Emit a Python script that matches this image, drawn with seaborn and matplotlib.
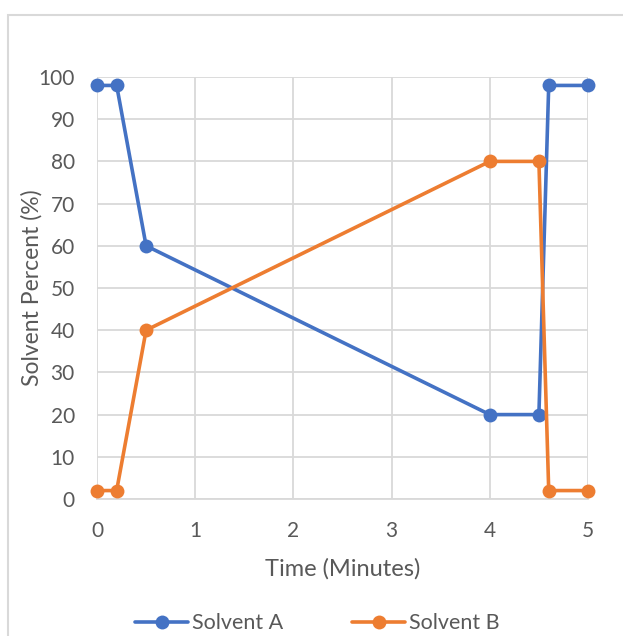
#!/usr/bin/env python3
import matplotlib
matplotlib.use("Agg")
import matplotlib.pyplot as plt
from matplotlib.patches import Rectangle
import pandas as pd
import seaborn as sns

# gradient program
time_min = [0, 0.2, 0.5, 4, 4.5, 4.6, 5]
solvent_a = [98, 98, 60, 20, 20, 98, 98]
solvent_b = [2, 2, 40, 80, 80, 2, 2]
series_names = ["Solvent A", "Solvent B"]
x_ticks = [0, 1, 2, 3, 4, 5]
y_ticks = [0, 10, 20, 30, 40, 50, 60, 70, 80, 90, 100]

BLUE = "#4472C4"
ORANGE = "#ED7D31"
TEXT = "#595959"
GRID = "#D9D9D9"

sns.set_theme(style="white")
plt.rcParams["font.family"] = ["Lato", "DejaVu Sans"]

df = pd.concat(
    [
        pd.DataFrame({"time": time_min, "pct": solvent_a, "series": series_names[0]}),
        pd.DataFrame({"time": time_min, "pct": solvent_b, "series": series_names[1]}),
    ],
    ignore_index=True,
)

fig = plt.figure(figsize=(6.23, 6.36), dpi=100)
fig.patches.append(
    Rectangle((8 / 623, -0.05), 1.1, 1 - 15 / 636 + 0.05, transform=fig.transFigure,
              fill=False, edgecolor=GRID, linewidth=1.5)
)
ax = fig.add_axes([97 / 623, 137 / 636, 491 / 623, 422 / 636])

sns.lineplot(
    data=df, x="time", y="pct", hue="series", palette=[BLUE, ORANGE],
    marker="o", markersize=10, markeredgewidth=0, linewidth=2.6,
    estimator=None, sort=False, ax=ax, clip_on=False, zorder=3,
)

ax.set_xlim(0, 5)
ax.set_ylim(0, 100)
ax.set_xticks(x_ticks)
ax.set_yticks(y_ticks)
ax.grid(True, color=GRID, linewidth=1.3)
for side in ["top", "right", "left"]:
    ax.spines[side].set_visible(False)
ax.spines["bottom"].set_color(GRID)
ax.spines["bottom"].set_linewidth(1.3)
ax.tick_params(axis="both", length=0, labelsize=15, labelcolor=TEXT)
ax.tick_params(axis="x", pad=16)
ax.tick_params(axis="y", pad=16)
ax.set_xlabel("Time (Minutes)", fontsize=17, color=TEXT, labelpad=12)
ax.set_ylabel("Solvent Percent (%)", fontsize=16.5, color=TEXT)
ax.yaxis.set_label_coords(-0.11, 0.5)

ax.legend(
    title=None, ncol=2, frameon=False, loc="upper center",
    bbox_to_anchor=(0.448, -0.225), fontsize=15.5, handlelength=2.5,
    columnspacing=3.2, labelcolor=TEXT, handletextpad=0.15,
)

fig.savefig("out.png", dpi=100)
